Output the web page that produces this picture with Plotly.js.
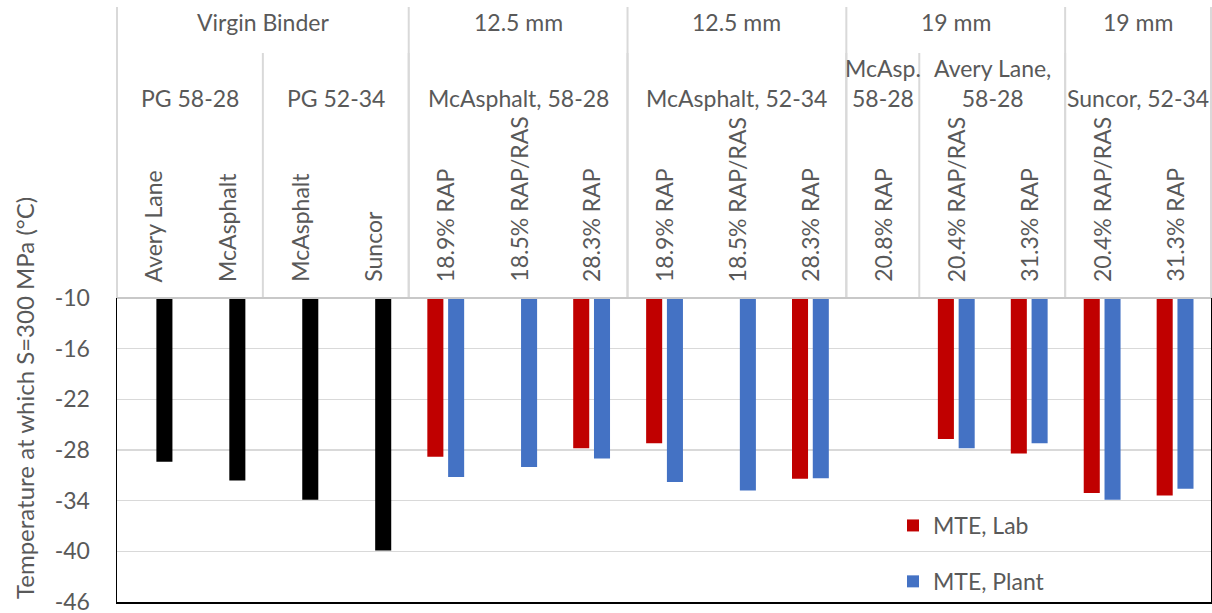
<!DOCTYPE html>
<html>
<head>
<meta charset="utf-8">
<script src="https://cdn.plot.ly/plotly-3.0.1.min.js"></script>
<style>
  html, body { margin: 0; padding: 0; background: #ffffff; }
  #chart { width: 1212px; height: 613px; }
</style>
</head>
<body>
<div id="chart"></div>
<script>
// Sample labels, one per bar slot (rotated labels, innermost level)
const sampleLabels = [
  'Avery Lane', 'McAsphalt', 'McAsphalt', 'Suncor',
  '18.9% RAP', '18.5% RAP/RAS', '28.3% RAP',
  '18.9% RAP', '18.5% RAP/RAS', '28.3% RAP',
  '20.8% RAP', '20.4% RAP/RAS', '31.3% RAP',
  '20.4% RAP/RAS', '31.3% RAP'
];

// Middle level: binder source / grade, with the number of samples in each
const binderGroups = ['PG 58-28', 'PG 52-34', 'McAsphalt, 58-28', 'McAsphalt, 52-34',
                      'McAsp.<br>58-28', 'Avery Lane,<br>58-28', 'Suncor, 52-34'];
const binderCounts = [2, 2, 3, 3, 1, 2, 2];

// Top level: mix size, with the number of samples in each
const sizeGroups = ['Virgin Binder', '12.5 mm', '12.5 mm', '19 mm', '19 mm'];
const sizeCounts = [4, 3, 3, 3, 2];

// Temperature at which S = 300 MPa (°C)
const virginBinder = [-29.4, -31.6, -33.9, -39.9, null, null, null, null, null, null, null, null, null, null, null];
const mteLab   = [null, null, null, null, -28.8, null, -27.8, -27.2, null, -31.4, null, -26.7, -28.4, -33.1, -33.4];
const mtePlant = [null, null, null, null, -31.2, -30.0, -29.0, -31.8, -32.8, -31.35, null, -27.8, -27.2, -33.9, -32.6];

const yTicks = [-10, -16, -22, -28, -34, -40, -46];

const slots = sampleLabels.map((_, i) => i);
const nSlots = sampleLabels.length;

const FONT = 'Lato, "Open Sans", sans-serif';
const TXT = '#595959';
const SEP = '#d9d9d9';

// plot-area geometry (pixels) used to place the header rows above it
const TOP = 298, BOTTOM = 602;
const py = p => (BOTTOM - p) / (BOTTOM - TOP);

const traces = [
  {
    type: 'bar', x: slots, y: mteLab, name: 'MTE, Lab',
    marker: { color: '#c00000' }, offset: -0.245, width: 0.22,
    legendgroup: 'lab', hoverinfo: 'y'
  },
  {
    type: 'bar', x: slots, y: mtePlant, name: 'MTE, Plant',
    marker: { color: '#4472c4' }, offset: 0.04, width: 0.22,
    legendgroup: 'plant', hoverinfo: 'y'
  },
  {
    type: 'bar', x: slots, y: virginBinder, name: 'Virgin binder',
    marker: { color: '#000000' }, offset: 0.04, width: 0.22,
    showlegend: false, hoverinfo: 'y'
  }
];

const annotations = [];
const shapes = [];

// innermost rotated labels
sampleLabels.forEach((lab, i) => {
  annotations.push({
    xref: 'x', yref: 'paper', x: i, y: py(284),
    text: lab, textangle: -90, showarrow: false,
    xanchor: 'center', yanchor: 'bottom',
    font: { family: FONT, size: 23, color: TXT }
  });
});

// grouped header rows
function spans(counts) {
  const out = [];
  let start = 0;
  counts.forEach(c => { out.push([start, start + c]); start += c; });
  return out;
}

spans(binderCounts).forEach(([a, b], k) => {
  annotations.push({
    xref: 'x', yref: 'paper', x: (a + b - 1) / 2, y: py(114),
    text: binderGroups[k], showarrow: false,
    xanchor: 'center', yanchor: 'bottom',
    font: { family: FONT, size: 23, color: TXT }
  });
  shapes.push({
    type: 'line', xref: 'paper', yref: 'paper',
    x0: a / nSlots, x1: a / nSlots, y0: 1, y1: py(53),
    line: { color: SEP, width: 2 }
  });
});

spans(sizeCounts).forEach(([a, b], k) => {
  annotations.push({
    xref: 'x', yref: 'paper', x: (a + b - 1) / 2, y: py(22),
    text: sizeGroups[k], showarrow: false,
    xanchor: 'center', yanchor: 'middle',
    font: { family: FONT, size: 23, color: TXT }
  });
  shapes.push({
    type: 'line', xref: 'paper', yref: 'paper',
    x0: a / nSlots, x1: a / nSlots, y0: 1, y1: py(7),
    line: { color: SEP, width: 2 }
  });
});
// right edge of the header block
shapes.push({
  type: 'line', xref: 'paper', yref: 'paper',
  x0: 1, x1: 1, y0: 1, y1: py(7),
  line: { color: SEP, width: 2 }
});
// grey rule along the top of the plot area
shapes.push({
  type: 'line', xref: 'paper', yref: 'paper',
  x0: 0, x1: 1, y0: 1, y1: 1,
  line: { color: '#c8c8c8', width: 2 }
});

// y-axis title
annotations.push({
  xref: 'paper', yref: 'paper', x: (24 - 117) / 1094, y: py(398),
  text: 'Temperature at which S=300 MPa (°C)', textangle: -90, showarrow: false,
  xanchor: 'center', yanchor: 'middle',
  font: { family: FONT, size: 24, color: TXT }
});

const layout = {
  width: 1212, height: 613,
  margin: { l: 117, r: 1, t: TOP, b: 613 - BOTTOM, pad: 0 },
  paper_bgcolor: '#ffffff', plot_bgcolor: '#ffffff',
  barmode: 'overlay',
  showlegend: true,
  legend: {
    x: (893 - 117) / 1094, xanchor: 'left',
    y: py(504), yanchor: 'top',
    bgcolor: 'rgba(0,0,0,0)', borderwidth: 0,
    traceorder: 'grouped', tracegroupgap: 23,
    font: { family: FONT, size: 23, color: TXT }
  },
  xaxis: {
    range: [-0.5, nSlots - 0.5], showticklabels: false, ticks: '',
    showgrid: false, zeroline: false, fixedrange: true,
    showline: true, linecolor: '#000000', linewidth: 2
  },
  yaxis: {
    range: [-46, -10], tickvals: yTicks, ticktext: yTicks.map(String),
    showgrid: true, gridcolor: SEP, gridwidth: 1.5, zeroline: false,
    showline: true, linecolor: '#000000', linewidth: 1.5, mirror: true,
    ticks: '', ticklabelstandoff: 21, ticklabeloverflow: 'allow',
    tickfont: { family: FONT, size: 23, color: TXT },
    fixedrange: true
  },
  annotations: annotations,
  shapes: shapes
};

Plotly.newPlot('chart', traces, layout, { displayModeBar: false, staticPlot: true });
</script>
</body>
</html>
